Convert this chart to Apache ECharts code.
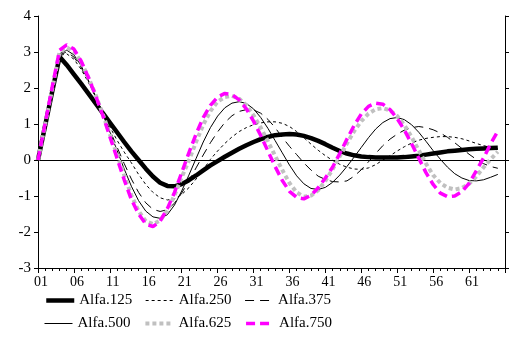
<!DOCTYPE html>
<html>
<head>
<meta charset="utf-8">
<script src="https://cdn.jsdelivr.net/npm/echarts@6/dist/echarts.min.js"></script>
<style>html,body{margin:0;padding:0;background:#fff;}#c{width:510px;height:338px;}</style>
</head>
<body>
<div id="c"></div>
<script>
const categories = [];
for (let k = 1; k <= 66; k++) categories.push(k < 10 ? '0' + k : String(k));

const alfa125 = [0,0.96,1.92,2.87,2.64,2.38,2.12,1.85,1.58,1.31,1.04,0.77,0.5,0.24,0.0,-0.24,-0.46,-0.63,-0.72,-0.73,-0.67,-0.56,-0.43,-0.29,-0.15,-0.03,0.09,0.2,0.31,0.41,0.5,0.58,0.64,0.69,0.71,0.72,0.71,0.67,0.61,0.53,0.44,0.34,0.25,0.18,0.13,0.1,0.08,0.07,0.07,0.07,0.07,0.08,0.1,0.12,0.15,0.18,0.21,0.24,0.26,0.28,0.3,0.31,0.32,0.33,0.34];
const alfa250 = [0,0.96,1.93,2.9,2.95,2.8,2.52,2.16,1.76,1.3,0.92,0.55,0.22,-0.08,-0.4,-0.68,-0.9,-1.05,-1.11,-1.08,-0.96,-0.77,-0.53,-0.27,0.02,0.25,0.46,0.64,0.79,0.9,0.98,1.03,1.06,1.06,1.02,0.93,0.79,0.62,0.44,0.27,0.12,-0.01,-0.12,-0.2,-0.25,-0.26,-0.22,-0.13,0.0,0.12,0.25,0.37,0.47,0.55,0.6,0.63,0.65,0.65,0.63,0.59,0.53,0.46,0.4,0.35,0.31];
const alfa375 = [0,0.97,1.95,2.92,3.0,2.86,2.57,2.2,1.77,1.3,0.83,0.36,-0.1,-0.53,-0.9,-1.19,-1.37,-1.43,-1.38,-1.2,-0.92,-0.58,-0.22,0.14,0.48,0.78,1.04,1.23,1.35,1.4,1.39,1.3,1.13,0.9,0.63,0.38,0.15,-0.08,-0.28,-0.45,-0.54,-0.6,-0.61,-0.58,-0.45,-0.27,-0.05,0.18,0.4,0.58,0.72,0.83,0.9,0.93,0.9,0.84,0.75,0.63,0.48,0.32,0.16,0.02,-0.1,-0.18,-0.23];
const alfa500 = [0,0.98,1.97,2.95,3.05,2.92,2.62,2.22,1.77,1.28,0.78,0.27,-0.25,-0.73,-1.13,-1.42,-1.58,-1.62,-1.52,-1.25,-0.86,-0.42,0.04,0.5,0.9,1.22,1.45,1.58,1.62,1.57,1.42,1.18,0.88,0.54,0.2,-0.14,-0.44,-0.66,-0.79,-0.82,-0.76,-0.62,-0.42,-0.18,0.08,0.35,0.62,0.86,1.04,1.15,1.18,1.12,0.98,0.77,0.52,0.26,0.02,-0.2,-0.38,-0.5,-0.57,-0.58,-0.55,-0.48,-0.4];
const alfa625 = [0,1.0,2.0,3.0,3.12,3.02,2.72,2.3,1.82,1.28,0.72,0.15,-0.42,-0.98,-1.42,-1.7,-1.78,-1.68,-1.4,-0.98,-0.48,-0.02,0.5,0.98,1.36,1.62,1.75,1.78,1.7,1.52,1.24,0.9,0.52,0.12,-0.28,-0.64,-0.9,-1.02,-0.99,-0.84,-0.58,-0.26,0.1,0.46,0.8,1.08,1.29,1.41,1.44,1.38,1.22,0.97,0.64,0.27,-0.1,-0.42,-0.64,-0.77,-0.82,-0.78,-0.66,-0.46,-0.21,0.02,0.23];
const alfa750 = [0,1.02,2.05,3.05,3.2,3.08,2.75,2.3,1.8,1.25,0.65,0.05,-0.55,-1.1,-1.5,-1.78,-1.85,-1.7,-1.35,-0.9,-0.35,0.2,0.72,1.18,1.52,1.75,1.85,1.82,1.67,1.42,1.08,0.68,0.25,-0.18,-0.57,-0.87,-1.04,-1.08,-0.98,-0.77,-0.5,-0.2,0.18,0.58,0.96,1.28,1.49,1.58,1.55,1.4,1.15,0.83,0.45,0.05,-0.35,-0.68,-0.92,-1.02,-1.0,-0.88,-0.65,-0.3,0.05,0.45,0.8];

const yTicks = { min: -3, max: 4, interval: 1 };
const FONT = "'Liberation Serif', 'DejaVu Serif', serif";
const FS = 14;

const names = ['Alfa.125','Alfa.250','Alfa.375','Alfa.500','Alfa.625','Alfa.750'];
const values = [alfa125, alfa250, alfa375, alfa500, alfa625, alfa750];
const styles = [
  { color: '#000', width: 4.5, type: 'solid' },
  { color: '#000', width: 1, type: [3, 3] },
  { color: '#000', width: 1, type: [9, 6] },
  { color: '#000', width: 1, type: 'solid' },
  { color: '#c0c0c0', width: 4, type: [4, 3] },
  { color: '#ff00ff', width: 3.5, type: [9, 5] }
];

const series = names.map((n, k) => ({
  name: n,
  type: 'line',
  data: values[k],
  symbol: 'none',
  showSymbol: false,
  smooth: false,
  animation: false,
  color: styles[k].color,
  lineStyle: { color: styles[k].color, width: styles[k].width, type: styles[k].type, cap: 'butt' },
  markLine: k === 0 ? {
    silent: true, symbol: 'none', animation: false,
    label: { show: false },
    lineStyle: { color: '#000', width: 1, type: 'solid' },
    data: [{ yAxis: 0 }]
  } : undefined,
  z: 2 + k
}));

const legendItem = k => ({
  name: names[k],
  itemStyle: { opacity: 0 },
  lineStyle: { color: styles[k].color, width: styles[k].width, type: styles[k].type, cap: 'butt' }
});

const legendBase = {
  left: 39, itemWidth: 28, itemHeight: 12, itemGap: 13,
  textStyle: { fontFamily: FONT, fontSize: FS + 1, color: '#000' }
};

const chart = echarts.init(document.getElementById('c'), null, { renderer: 'canvas' });
chart.setOption({
  animation: false,
  backgroundColor: '#fff',
  textStyle: { fontFamily: FONT, color: '#000' },
  grid: { left: 38, right: 5, top: 16, bottom: 70, containLabel: false },
  legend: [
    Object.assign({}, legendBase, { top: 288, data: [0, 1, 2].map(legendItem) }),
    Object.assign({}, legendBase, { top: 311, data: [3, 4, 5].map(legendItem) })
  ],
  xAxis: [
    {
      type: 'category', data: categories, boundaryGap: false, position: 'bottom',
      axisLine: { onZero: false, lineStyle: { color: '#000', width: 1 } },
      axisTick: { show: true, interval: 0, length: 3, lineStyle: { color: '#000' } },
      axisLabel: {
        interval: 4, fontFamily: FONT, fontSize: FS, color: '#000', margin: 7,
        padding: [0, 0, 0, 6],
        formatter: v => (v === '66' ? '' : v)
      },
      splitLine: { show: false }
    },
    {
      type: 'category', data: categories, boundaryGap: false, position: 'bottom',
      axisLine: { show: false, onZero: false },
      axisTick: { show: true, interval: 4, length: 5, lineStyle: { color: '#000' } },
      axisLabel: { show: false },
      splitLine: { show: false }
    }
  ],
  yAxis: [
    {
      type: 'value', min: yTicks.min, max: yTicks.max, interval: yTicks.interval, position: 'left',
      axisLine: { show: true, lineStyle: { color: '#000' } },
      axisTick: { show: true, length: 4, lineStyle: { color: '#000' } },
      axisLabel: { fontFamily: FONT, fontSize: FS + 1, color: '#000', margin: 7 },
      splitLine: { show: false }
    },
    {
      type: 'value', min: yTicks.min, max: yTicks.max, interval: yTicks.interval, position: 'right',
      axisLine: { show: true, lineStyle: { color: '#000' } },
      axisTick: { show: true, length: 4, lineStyle: { color: '#000' } },
      axisLabel: { show: false },
      splitLine: { show: false }
    }
  ],
  series: series
});
</script>
</body>
</html>
